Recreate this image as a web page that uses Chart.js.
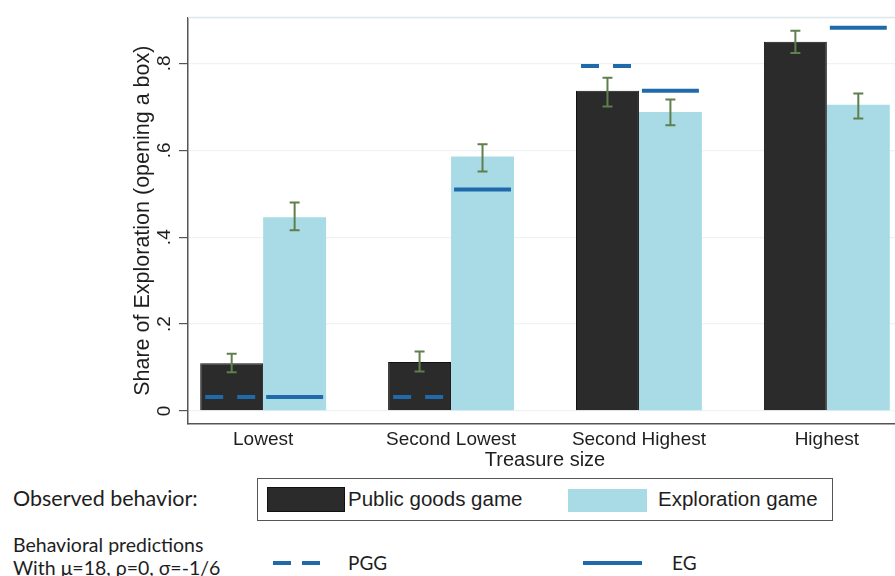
<!DOCTYPE html>
<html>
<head>
<meta charset="utf-8">
<script src="https://cdn.jsdelivr.net/npm/chart.js@4"></script>
<style>
  html, body { margin: 0; padding: 0; background: #fff; overflow: hidden; width: 895px; height: 576px; }
  #wrap { position: absolute; left: 0; top: 0; width: 905px; height: 475px; }
  .note { position: absolute; font-family: Lato, "Noto Sans", sans-serif; color: #1e1e1e; white-space: nowrap; }
  .obs { font-size: 21.5px; left: 13px; top: 485px; }
  .pred1 { font-size: 19.5px; left: 13px; top: 533px; }
  .pred2 { font-size: 19.5px; left: 13px; top: 556px; }
  #legbox { position: absolute; left: 257px; top: 478px; width: 576px; height: 43px; border: 1.5px solid #555; box-sizing: border-box; }
  .sw { position: absolute; }
  .lgtxt { position: absolute; font-family: "Liberation Sans", Arial, sans-serif; font-size: 20.5px; color: #1e1e1e; white-space: nowrap; }
  .ltxt { position: absolute; font-family: Lato, "Noto Sans", sans-serif; font-size: 19px; color: #1e1e1e; }
</style>
</head>
<body>
<div id="wrap"><canvas id="c" width="905" height="475"></canvas></div>

<div class="note obs">Observed behavior:</div>
<div id="legbox">
  <div class="sw" style="left:9px;top:8px;width:78px;height:25px;background:#2b2b2b;border:1px solid #111;box-sizing:border-box;"></div>
  <div class="lgtxt" style="left:90px;top:8px;">Public goods game</div>
  <div class="sw" style="left:310px;top:10px;width:79px;height:23px;background:#a8dbe5;"></div>
  <div class="lgtxt" style="left:400px;top:8px;">Exploration game</div>
</div>
<div class="note pred1">Behavioral predictions</div>
<div class="note pred2">With μ=18, ρ=0, σ=-1/6</div>
<div class="sw" style="left:273px;top:561px;width:18px;height:4px;background:#1f6aab;"></div>
<div class="sw" style="left:302px;top:561px;width:18px;height:4px;background:#1f6aab;"></div>
<div class="ltxt" style="left:348px;top:551px;">PGG</div>
<div class="sw" style="left:583px;top:561px;width:59px;height:4px;background:#1f6aab;"></div>
<div class="ltxt" style="left:672px;top:551px;">EG</div>

<script>
// Treasure size categories
const categories = ['Lowest', 'Second Lowest', 'Second Highest', 'Highest'];

// Observed share of exploration, public goods game, with confidence bounds
const publicGoods     = [0.110, 0.113, 0.737, 0.850];
const publicGoodsLow  = [0.089, 0.091, 0.701, 0.824];
const publicGoodsHigh = [0.132, 0.137, 0.767, 0.875];

// Observed share of exploration, exploration game, with confidence bounds
const exploration     = [0.446, 0.586, 0.688, 0.705];
const explorationLow  = [0.416, 0.551, 0.658, 0.673];
const explorationHigh = [0.480, 0.614, 0.717, 0.731];

// Behavioral predictions (mu=18, rho=0, sigma=-1/6)
const predictedPGG = [0.032, 0.032, 0.794, null];
const predictedEG  = [0.032, 0.510, 0.737, 0.882];

// Value axis ticks
const yTicks = [0, 0.2, 0.4, 0.6, 0.8];
const yTickLabels = ['0', '.2', '.4', '.6', '.8'];

const DARK = '#2b2b2b';
const LIGHT = '#a8dbe5';
const PRED = '#1f6aab';
const CI = '#5f7f4c';

const toPoints = arr => arr.map((v, i) => ({ x: i, y: v }));

// Confidence intervals drawn over each bar
const errorBars = {
  id: 'errorBars',
  afterDatasetsDraw(chart) {
    const ctx = chart.ctx;
    const y = chart.scales.y;
    const bounds = [[publicGoodsLow, publicGoodsHigh], [explorationLow, explorationHigh]];
    ctx.save();
    ctx.strokeStyle = CI;
    ctx.lineWidth = 2;
    bounds.forEach(([lo, hi], d) => {
      chart.getDatasetMeta(d).data.forEach((el, i) => {
        const yl = y.getPixelForValue(lo[i]);
        const yh = y.getPixelForValue(hi[i]);
        ctx.beginPath();
        ctx.moveTo(el.x, yl); ctx.lineTo(el.x, yh);
        ctx.moveTo(el.x - 5, yl); ctx.lineTo(el.x + 5, yl);
        ctx.moveTo(el.x - 5, yh); ctx.lineTo(el.x + 5, yh);
        ctx.stroke();
      });
    });
    ctx.restore();
  }
};

// Predicted levels: dashed over the public goods bar, solid over the exploration bar
const predictions = {
  id: 'predictions',
  afterDatasetsDraw(chart) {
    const ctx = chart.ctx;
    const y = chart.scales.y;
    const sets = [[predictedPGG, 0, [18, 14], 5], [predictedEG, 1, [], 3]];
    ctx.save();
    ctx.strokeStyle = PRED;
    ctx.lineWidth = 4;
    ctx.lineCap = 'butt';
    sets.forEach(([vals, d, dash, inset]) => {
      ctx.setLineDash(dash);
      chart.getDatasetMeta(d).data.forEach((el, i) => {
        if (vals[i] === null) return;
        const py = y.getPixelForValue(vals[i]);
        ctx.beginPath();
        ctx.moveTo(el.x - el.width / 2 + inset, py);
        ctx.lineTo(el.x + el.width / 2 - inset, py);
        ctx.stroke();
      });
    });
    ctx.restore();
  }
};

// Faint top edge of the plot region
const plotTop = {
  id: 'plotTop',
  beforeDatasetsDraw(chart) {
    const { ctx, chartArea } = chart;
    ctx.save();
    ctx.strokeStyle = '#dbe7ea';
    ctx.lineWidth = 1.5;
    ctx.beginPath();
    ctx.moveTo(chartArea.left, chartArea.top);
    ctx.lineTo(chartArea.right, chartArea.top);
    ctx.stroke();
    ctx.restore();
  }
};

const axisFont = { family: '"Liberation Sans", Arial, sans-serif', size: 19 };

new Chart(document.getElementById('c'), {
  type: 'bar',
  data: {
    datasets: [
      { label: 'Public goods game', data: toPoints(publicGoods), backgroundColor: DARK, borderColor: '#111', borderWidth: 1 },
      { label: 'Exploration game', data: toPoints(exploration), backgroundColor: LIGHT, borderWidth: 0 }
    ]
  },
  options: {
    responsive: false,
    animation: false,
    layout: { padding: { left: 130, top: 11, right: 3, bottom: 0 } },
    categoryPercentage: 0.67,
    barPercentage: 1.0,
    plugins: { legend: { display: false }, tooltip: { enabled: false } },
    scales: {
      x: {
        type: 'linear',
        min: -0.4,
        max: 3.4,
        offset: false,
        afterBuildTicks: s => { s.ticks = categories.map((c, i) => ({ value: i })); },
        afterFit: s => { s.height = 51; },
        grid: { display: true, color: 'rgba(0,0,0,0)', drawTicks: false },
        border: { display: true, color: '#555', width: 1.5 },
        ticks: {
          autoSkip: false, maxRotation: 0, padding: 4,
          color: '#1e1e1e', font: axisFont,
          callback: v => categories[v]
        },
        title: {
          display: true, text: 'Treasure size', color: '#1e1e1e',
          font: { family: '"Liberation Sans", Arial, sans-serif', size: 20 },
          padding: { top: 0, bottom: 3 }
        }
      },
      y: {
        min: -0.03,
        max: 0.906,
        afterBuildTicks: s => { s.ticks = yTicks.map(v => ({ value: v })); },
        afterFit: s => { s.width = 58; },
        grid: { color: '#edf2f3', tickColor: '#555', tickLength: 9, lineWidth: 1.2 },
        border: { display: true, color: '#555', width: 1.5 },
        ticks: {
          minRotation: 90, maxRotation: 90, crossAlign: 'center', padding: 6,
          color: '#1e1e1e', font: axisFont,
          callback: (v, i) => yTickLabels[i]
        },
        title: {
          display: true, text: 'Share of Exploration (opening a box)', color: '#1e1e1e',
          font: { family: '"Liberation Sans", Arial, sans-serif', size: 21.5 },
          padding: { top: 0, bottom: 0 }
        }
      }
    }
  },
  plugins: [plotTop, errorBars, predictions]
});
</script>
</body>
</html>
